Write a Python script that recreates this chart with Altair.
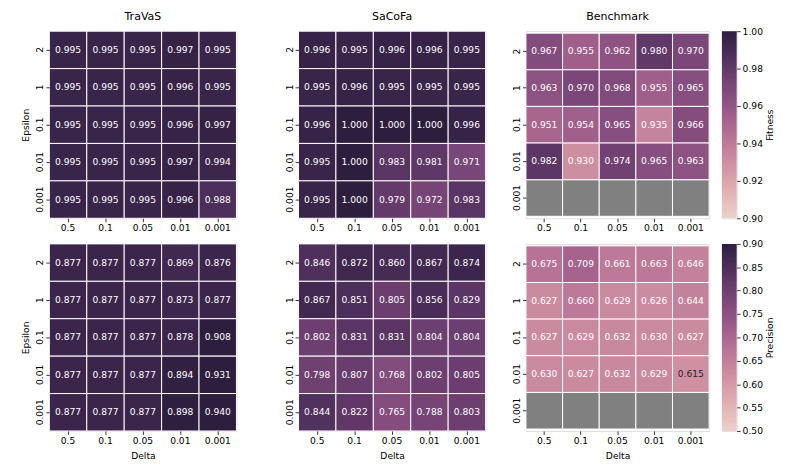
import numpy as np
import pandas as pd
import altair as alt

# ---------------- data ----------------
delta_labels = ["0.5", "0.1", "0.05", "0.01", "0.001"]
epsilon_labels = ["2", "1", "0.1", "0.01", "0.001"]

travas_fitness = [
    [0.995, 0.995, 0.995, 0.997, 0.995],
    [0.995, 0.995, 0.995, 0.996, 0.995],
    [0.995, 0.995, 0.995, 0.996, 0.997],
    [0.995, 0.995, 0.995, 0.997, 0.994],
    [0.995, 0.995, 0.995, 0.996, 0.988],
]
sacofa_fitness = [
    [0.996, 0.995, 0.996, 0.996, 0.995],
    [0.995, 0.996, 0.995, 0.995, 0.995],
    [0.996, 1.000, 1.000, 1.000, 0.996],
    [0.995, 1.000, 0.983, 0.981, 0.971],
    [0.995, 1.000, 0.979, 0.972, 0.983],
]
benchmark_fitness = [
    [0.967, 0.955, 0.962, 0.980, 0.970],
    [0.963, 0.970, 0.968, 0.955, 0.965],
    [0.951, 0.954, 0.965, 0.935, 0.966],
    [0.982, 0.930, 0.974, 0.965, 0.963],
    [None, None, None, None, None],
]
travas_precision = [
    [0.877, 0.877, 0.877, 0.869, 0.876],
    [0.877, 0.877, 0.877, 0.873, 0.877],
    [0.877, 0.877, 0.877, 0.878, 0.908],
    [0.877, 0.877, 0.877, 0.894, 0.931],
    [0.877, 0.877, 0.877, 0.898, 0.940],
]
sacofa_precision = [
    [0.846, 0.872, 0.860, 0.867, 0.874],
    [0.867, 0.851, 0.805, 0.856, 0.829],
    [0.802, 0.831, 0.831, 0.804, 0.804],
    [0.798, 0.807, 0.768, 0.802, 0.805],
    [0.844, 0.822, 0.765, 0.788, 0.803],
]
benchmark_precision = [
    [0.675, 0.709, 0.661, 0.663, 0.646],
    [0.627, 0.660, 0.629, 0.626, 0.644],
    [0.627, 0.629, 0.632, 0.630, 0.627],
    [0.630, 0.627, 0.632, 0.629, 0.615],
    [None, None, None, None, None],
]

titles = ["TraVaS", "SaCoFa", "Benchmark"]
fitness_range = [0.90, 1.00]
precision_range = [0.50, 0.90]
fitness_ticks = [0.90, 0.92, 0.94, 0.96, 0.98, 1.00]
precision_ticks = [0.50, 0.55, 0.60, 0.65, 0.70, 0.75, 0.80, 0.85, 0.90]

# ---------------- style ----------------
FONT = "DejaVu Sans"
INK = "#000000"
FS = 9.3
NSTOP = 11


def cubehelix_hex(t):
    # seaborn default cubehelix_palette (light=.85, dark=.15), t in [0,1] low->high
    x = 0.85 - 0.70 * t
    a = 0.8 * x * (1 - x) / 2
    phi = 2 * np.pi * (0.4 * x)
    r = x + a * (-0.14861 * np.cos(phi) + 1.78277 * np.sin(phi))
    g = x + a * (-0.29227 * np.cos(phi) - 0.90649 * np.sin(phi))
    b = x + a * (1.97294 * np.cos(phi))
    rgb = [min(1, max(0, c)) for c in (r, g, b)]
    return "#" + "".join(f"{int(round(c * 255)):02x}" for c in rgb)


stop_t = list(np.linspace(0, 1, NSTOP))
stop_colors = [cubehelix_hex(t) for t in stop_t]


def to_df(matrix, lo, hi):
    rows = []
    for eps, row in zip(epsilon_labels, matrix):
        for d, v in zip(delta_labels, row):
            rows.append({"eps": eps, "delta": d, "v": v})
    df = pd.DataFrame(rows)
    df["v"] = df["v"].astype(float)
    df["norm"] = (df["v"] - lo) / (hi - lo)
    return df


def heat(matrix, rng, width, title, y_title, x_title, y_extent, y_pad_outer=0.0):
    lo, hi = rng
    df = to_df(matrix, lo, hi)
    dom = [lo + (hi - lo) * t for t in stop_t]
    cscale = alt.Scale(domain=dom, range=stop_colors, interpolate="rgb", clamp=True)
    x_axis = dict(labelAngle=0, labelFontSize=FS, labelFont=FONT, labelColor=INK,
                  tickSize=3.5, tickWidth=0.8, tickColor=INK, domain=False,
                  labelPadding=2, grid=False)
    if x_title:
        x_axis.update(title=x_title, titleFontSize=FS, titleFont=FONT, titleColor=INK,
                      titleFontWeight="normal", titlePadding=6)
    else:
        x_axis.update(title=None)
    y_axis = dict(labelAngle=270, labelAlign="center", labelBaseline="bottom",
                  labelFontSize=FS, labelFont=FONT, labelColor=INK,
                  tickSize=3.5, tickWidth=0.8, tickColor=INK, domain=False,
                  labelPadding=1, grid=False, minExtent=y_extent, maxExtent=y_extent)
    if y_title:
        y_axis.update(title=y_title, titleFontSize=FS, titleFont=FONT, titleColor=INK,
                      titleFontWeight="normal", titlePadding=4)
    else:
        y_axis.update(title=None)
    x = alt.X("delta:N", sort=delta_labels, scale=alt.Scale(paddingInner=0, paddingOuter=0),
              axis=alt.Axis(**x_axis))
    y = alt.Y("eps:N", sort=epsilon_labels,
              scale=alt.Scale(paddingInner=0, paddingOuter=y_pad_outer),
              axis=alt.Axis(**y_axis))
    base = alt.Chart(df).encode(x=x, y=y)
    missing = base.transform_filter("!isValid(datum.v)").mark_rect(
        fill="#808080", stroke="white", strokeWidth=1)
    cells = base.transform_filter("isValid(datum.v)").mark_rect(
        stroke="white", strokeWidth=1).encode(
        color=alt.Color("v:Q", scale=cscale, legend=None))
    labels = base.transform_filter("isValid(datum.v)").mark_text(
        font=FONT, fontSize=FS).encode(
        text=alt.Text("v:Q", format=".3f"),
        color=alt.condition("datum.norm < 0.295", alt.value("#262626"), alt.value("white")))
    props = dict(width=width, height=190)
    if title:
        props["title"] = alt.TitleParams(text=title, fontSize=11.2, font=FONT, color=INK,
                                         fontWeight="normal", offset=0, baseline="alphabetic",
                                         anchor="middle", frame="group")
    return alt.layer(missing, cells, labels).properties(**props)


def colorbar(rng, ticks, label):
    df = pd.DataFrame({"k": ["cb"], "lo": [rng[0]], "hi": [rng[1]]})
    grad = alt.Gradient(gradient="linear", x1=0, x2=0, y1=1, y2=0,
                        stops=[alt.GradientStop(offset=float(t), color=c)
                               for t, c in zip(stop_t, stop_colors)])
    return alt.Chart(df).mark_rect(color=grad).encode(
        x=alt.X("k:N", axis=None, scale=alt.Scale(paddingInner=0, paddingOuter=0)),
        y=alt.Y("lo:Q", scale=alt.Scale(domain=rng, nice=False, zero=False),
                axis=alt.Axis(orient="right", values=ticks, format=".2f", domain=False,
                              grid=False, tickSize=3.5, tickWidth=0.8, tickColor=INK,
                              labelFontSize=FS, labelFont=FONT, labelColor=INK, labelPadding=2,
                              title=label, titleFontSize=FS, titleFont=FONT, titleColor=INK,
                              titleFontWeight="normal", titleAngle=270, titleBaseline="top",
                              titlePadding=3)),
        y2="hi:Q",
    ).properties(width=15, height=190)


def row(mats, rng, ticks, label, top):
    tt = titles if top else [None, None, None]
    xt = None if top else "Delta"
    p1 = heat(mats[0], rng, 190, tt[0], "Epsilon", xt, 15)
    p2 = heat(mats[1], rng, 190, tt[1], None, xt, 50)
    p3 = heat(mats[2], rng, 186, tt[2], None, xt, 28, y_pad_outer=0.054)
    cb = colorbar(rng, ticks, label)
    return alt.hconcat(p1, p2, p3, cb, spacing=11).resolve_scale(color="independent")


top_row = row([travas_fitness, sacofa_fitness, benchmark_fitness],
              fitness_range, fitness_ticks, "Fitness", True)
bottom_row = row([travas_precision, sacofa_precision, benchmark_precision],
                 precision_range, precision_ticks, "Precision", False)

chart = alt.vconcat(top_row, bottom_row, spacing=5).resolve_scale(
    color="independent"
).properties(
    padding={"left": 13, "top": -2, "right": 5, "bottom": 0},
    background="white",
).configure_view(stroke=None).configure(font=FONT)

chart.save("out.html", embed_options={"renderer": "svg", "actions": False})
